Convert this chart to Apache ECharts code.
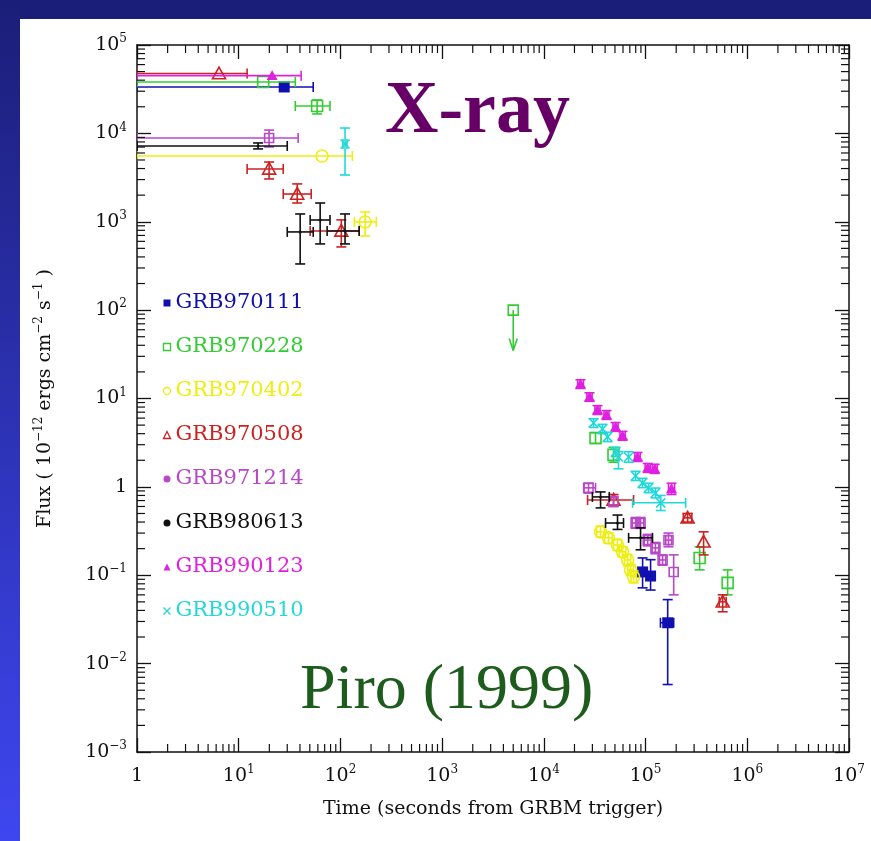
<!DOCTYPE html>
<html>
<head>
<meta charset="utf-8">
<title>X-ray afterglows (Piro 1999)</title>
<script src="https://cdn.jsdelivr.net/npm/echarts@6/dist/echarts.min.js"></script>
<style>
html, body { margin: 0; padding: 0; background: #fff; }
#chart { width: 871px; height: 841px; }
</style>
</head>
<body>
<div id="chart"></div>
<script>
// rows: [time, flux, timeLo, timeHi, fluxLo, fluxHi]   null = no bar
var grb970111 = [
  [28, 33500, 1, 54, null, null],
  [93500, 0.109, 86000, 102000, 0.072, 0.157],
  [112000, 0.098, 104000, 121000, 0.068, 0.15],
  [165000, 0.029, 140000, 189000, 0.0058, 0.053]
]
var grb970228 = [
  [17.4, 38100, 1, 36, null, null],
  [59, 20400, 36, 79, 16600, 23900],
  [32200, 3.58, null, null, 3.1, 4.1],
  [48400, 2.3, null, null, 1.9, 2.8],
  [340000, 0.157, null, null, 0.115, 0.21],
  [641000, 0.082, null, null, 0.06, 0.115]
]
// upper limit: [time, flux, arrow tip]
var grb970228Limit = [[5000, 100, 35]]
var grb970402 = [
  [66, 5550, 1, 131, null, null],
  [175, 995, 137, 225, 690, 1290],
  [36100, 0.31, 33000, 39500, 0.27, 0.36],
  [43200, 0.265, 39500, 47000, 0.23, 0.3],
  [53000, 0.22, 48500, 58000, 0.19, 0.255],
  [59400, 0.184, 55000, 64000, 0.16, 0.21],
  [66600, 0.149, 62000, 71500, 0.128, 0.172],
  [71200, 0.115, 67000, 76000, 0.1, 0.133],
  [76200, 0.096, 72000, 81000, 0.082, 0.112]
]
var grb970508 = [
  [6.4, 47500, 1, 12.1, null, null],
  [19.9, 3960, 12.1, 27.4, 3050, 4740],
  [37.6, 2060, 27.4, 51.6, 1630, 2680],
  [102, 787, 50.4, 153, 519, 1050],
  [48400, 0.71, 26900, 76200, 0.62, 0.82],
  [259000, 0.446, 235000, 285000, 0.4, 0.5],
  [372000, 0.239, null, null, 0.17, 0.31],
  [573000, 0.05, 530000, 620000, 0.0386, 0.06]
]
var grb971214 = [
  [19.9, 8870, 1, 38.4, 7020, 10900],
  [27500, 0.975, 24600, 32200, 0.85, 1.1],
  [48400, 0.676, null, null, 0.6, 0.78],
  [79800, 0.39, 74000, 86000, 0.34, 0.45],
  [89300, 0.39, 83000, 96000, 0.34, 0.45],
  [105000, 0.25, 97000, 114000, 0.215, 0.29],
  [125000, 0.204, 116000, 135000, 0.175, 0.235],
  [147000, 0.149, 137000, 158000, 0.13, 0.17],
  [168000, 0.25, 158000, 180000, 0.21, 0.3],
  [189000, 0.109, null, null, 0.06, 0.17]
]
var grb980613 = [
  [15.5, 7200, 1, 30, 6670, 7790],
  [40.2, 767, 30, 54, 333, 1225],
  [63.2, 1047, 50.4, 79, 561, 1630],
  [111, 787, 74, 153, 561, 1225],
  [36100, 0.77, 30000, 44000, 0.578, 0.877],
  [53000, 0.39, 40400, 60700, 0.33, 0.48],
  [89300, 0.265, 68100, 117000, 0.194, 0.344]
]
var grb990123 = [
  [21.3, 45000, 1, 41.1, null, null],
  [22900, 14.6, 21500, 24500, 13, 16.3],
  [28100, 10.4, 26500, 29800, 9.3, 11.6],
  [33700, 7.43, 31800, 35700, 6.6, 8.3],
  [41300, 6.52, 39000, 43700, 5.8, 7.3],
  [50700, 4.77, 47800, 53700, 4.25, 5.35],
  [59400, 3.78, 56000, 63000, 3.37, 4.24],
  [83400, 2.18, 78500, 88500, 1.94, 2.45],
  [105000, 1.64, 99000, 111000, 1.46, 1.84],
  [123000, 1.6, 116000, 130000, 1.42, 1.8],
  [180000, 0.95, 168000, 193000, 0.82, 1.1]
]
var grb990510 = [
  [111, 7590, 106, 116, 3380, 11500],
  [30800, 5.3, null, null, 4.7, 5.9],
  [37700, 4.53, null, null, 4.0, 5.1],
  [42300, 3.68, null, null, 3.25, 4.15],
  [50700, 2.49, null, null, 2.2, 2.8],
  [54200, 2.18, null, null, 1.6, 2.5],
  [68100, 2.18, null, null, 1.9, 2.5],
  [79800, 1.33, null, null, 1.18, 1.5],
  [93300, 1.11, null, null, 0.98, 1.25],
  [107000, 0.975, null, null, 0.86, 1.1],
  [125000, 0.855, null, null, 0.75, 0.97],
  [141000, 0.66, 74500, 248000, 0.54, 0.8]
]

var names = ['GRB970111', 'GRB970228', 'GRB970402', 'GRB970508', 'GRB971214', 'GRB980613', 'GRB990123', 'GRB990510']
var tables = [grb970111, grb970228, grb970402, grb970508, grb971214, grb980613, grb990123, grb990510]
var colors = ['#1010b0', '#33cc33', '#eeee11', '#cc2222', '#b848c8', '#111111', '#e020e0', '#22d8d8']
var symbols = ['rectFill', 'rect', 'circle', 'triangle', 'rect', 'dot', 'triangleFill', 'x']
var symbolSizes = [11, 11, 12, 13, 9, 3, 11, 9]
var legendIcons = ['rect', 'rect', 'circle', 'triangle', 'circle', 'circle', 'triangle', 'path://M0,0L10,10M10,0L0,10']
var legendFilled = [true, false, false, false, true, true, true, false]

var xMin = 1, xMax = 1e7, yMin = 1e-3, yMax = 1e5
var minorSteps = [2, 3, 4, 5, 6, 7, 8, 9]
var xDecades = [1, 10, 100, 1e3, 1e4, 1e5, 1e6]
var yDecades = [1e-3, 1e-2, 0.1, 1, 10, 100, 1e3, 1e4]

var font = 'DejaVu Serif'
var chart = echarts.init(document.getElementById('chart'))

function seg(x1, y1, x2, y2, style) {
  return { type: 'line', shape: { x1: x1, y1: y1, x2: x2, y2: y2 }, style: style }
}

function symbolParts(kind, p, s, color) {
  var h = s / 2
  var stroke = { fill: 'none', stroke: color, lineWidth: 1.6 }
  var solid = { fill: color }
  var tri = [[p[0], p[1] - h], [p[0] - h, p[1] + h * 0.8], [p[0] + h, p[1] + h * 0.8]]
  switch (kind) {
    case 'rectFill':
      return [{ type: 'rect', shape: { x: p[0] - h, y: p[1] - h, width: s, height: s }, style: solid }]
    case 'rect':
      return [{ type: 'rect', shape: { x: p[0] - h, y: p[1] - h, width: s, height: s }, style: stroke }]
    case 'circle':
      return [{ type: 'circle', shape: { cx: p[0], cy: p[1], r: h }, style: stroke }]
    case 'triangle':
      return [{ type: 'polygon', shape: { points: tri }, style: stroke }]
    case 'triangleFill':
      return [{ type: 'polygon', shape: { points: tri }, style: solid }]
    case 'x':
      return [
        seg(p[0] - h, p[1] - h, p[0] + h, p[1] + h, stroke),
        seg(p[0] + h, p[1] - h, p[0] - h, p[1] + h, stroke)
      ]
    default:
      return [{ type: 'circle', shape: { cx: p[0], cy: p[1], r: h }, style: solid }]
  }
}

function errorBars(color, kind, size) {
  return function(params, api) {
    var x = api.value(0)
    var y = api.value(1)
    var p = api.coord([x, y])
    var xlo = api.value(2), xhi = api.value(3), ylo = api.value(4), yhi = api.value(5)
    var ls = { stroke: color, lineWidth: 1.6 }
    var cap = 5
    var kids = []
    if (isFinite(xlo) && isFinite(xhi)) {
      var a = api.coord([xlo, y]), b = api.coord([xhi, y])
      kids.push(seg(a[0], p[1], b[0], p[1], ls))
      kids.push(seg(a[0], p[1] - cap, a[0], p[1] + cap, ls))
      kids.push(seg(b[0], p[1] - cap, b[0], p[1] + cap, ls))
    }
    if (isFinite(ylo) && isFinite(yhi)) {
      var c = api.coord([x, ylo]), d = api.coord([x, yhi])
      kids.push(seg(p[0], c[1], p[0], d[1], ls))
      kids.push(seg(p[0] - cap, c[1], p[0] + cap, c[1], ls))
      kids.push(seg(p[0] - cap, d[1], p[0] + cap, d[1], ls))
    }
    return { type: 'group', children: kids.concat(symbolParts(kind, p, size, color)) }
  }
}

function upperLimit(color) {
  return function(params, api) {
    var p = api.coord([api.value(0), api.value(1)])
    var tip = api.coord([api.value(0), api.value(2)])
    var ls = { stroke: color, lineWidth: 1.6 }
    return {
      type: 'group',
      children: [
        { type: 'rect', shape: { x: p[0] - 5, y: p[1] - 5, width: 10, height: 10 }, style: { fill: 'none', stroke: color, lineWidth: 1.6 } },
        seg(p[0], p[1], p[0], tip[1], ls),
        seg(p[0] - 4, tip[1] - 12, p[0], tip[1], ls),
        seg(p[0] + 4, tip[1] - 12, p[0], tip[1], ls)
      ]
    }
  }
}

// minor ticks at 2..9 of each decade, on all four sides
var tickData = []
xDecades.forEach(function(d) {
  minorSteps.forEach(function(m) { tickData.push([d * m, yMin, 0]) })
})
yDecades.forEach(function(d) {
  minorSteps.forEach(function(m) { tickData.push([xMin, d * m, 1]) })
})

function minorTicks(params, api) {
  var v = api.value(2) === 0 ? api.value(0) : api.value(1)
  var ls = { stroke: '#111', lineWidth: 1.2 }
  var len = 8
  if (api.value(2) === 0) {
    var a = api.coord([v, yMin]), b = api.coord([v, yMax])
    return { type: 'group', children: [seg(a[0], a[1], a[0], a[1] - len, ls), seg(b[0], b[1], b[0], b[1] + len, ls)] }
  }
  var c = api.coord([xMin, v]), d = api.coord([xMax, v])
  return { type: 'group', children: [seg(c[0], c[1], c[0] + len, c[1], ls), seg(d[0], d[1], d[0] - len, d[1], ls)] }
}

function powLabel(v) {
  var e = Math.round(Math.log10(v))
  if (e === 0) return '1'
  return '10{s|' + (e < 0 ? '\u2212' + (-e) : e) + '}'
}

var labelStyle = {
  formatter: powLabel,
  fontFamily: font,
  fontSize: 19,
  lineHeight: 24,
  color: '#111',
  rich: { s: { fontFamily: font, fontSize: 12, lineHeight: 12, verticalAlign: 'top', color: '#111' } }
}
var lineStyle = { color: '#111', width: 1.5 }

function logAxis(pos, min, max, extra) {
  return Object.assign({
    type: 'log',
    logBase: 10,
    position: pos,
    min: min,
    max: max,
    axisLine: { show: true, onZero: false, lineStyle: lineStyle },
    axisTick: { show: true, inside: true, length: 14, lineStyle: { color: '#111', width: 1.3 } },
    axisLabel: { show: false },
    splitLine: { show: false },
    minorTick: { show: false }
  }, extra)
}

var series = names.map(function(n, i) {
  return {
    name: n,
    type: 'custom',
    coordinateSystem: 'cartesian2d',
    clip: true,
    encode: { x: 0, y: 1 },
    itemStyle: { color: colors[i] },
    data: tables[i],
    renderItem: errorBars(colors[i], symbols[i], symbolSizes[i]),
    z: 3
  }
})
series.push({
  name: 'GRB970228',
  type: 'custom',
  coordinateSystem: 'cartesian2d',
  encode: { x: 0, y: 1 },
  itemStyle: { color: colors[1] },
  data: grb970228Limit,
  renderItem: upperLimit(colors[1]),
  z: 3
})
series.push({
  name: 'ticks',
  type: 'custom',
  coordinateSystem: 'cartesian2d',
  silent: true,
  data: tickData,
  encode: { x: 0, y: 1 },
  renderItem: minorTicks,
  z: 4
})

chart.setOption({
  animation: false,
  backgroundColor: '#fff',
  grid: { left: 137, right: 22, top: 45, bottom: 89 },
  xAxis: [
    logAxis('bottom', xMin, xMax, {
      axisLabel: Object.assign({ margin: 12 }, labelStyle),
      name: 'Time (seconds from GRBM trigger)',
      nameLocation: 'middle',
      nameGap: 48,
      nameTextStyle: { fontFamily: font, fontSize: 19, color: '#111' }
    }),
    logAxis('top', xMin, xMax, {})
  ],
  yAxis: [
    logAxis('left', yMin, yMax, {
      axisLabel: Object.assign({ margin: 10 }, labelStyle),
      name: 'Flux ( 10{s|\u221212} ergs cm{s|\u22122} s{s|\u22121} )',
      nameLocation: 'middle',
      nameRotate: 90,
      nameGap: 80,
      nameTextStyle: {
        fontFamily: font, fontSize: 19, lineHeight: 24, color: '#111',
        rich: { s: { fontFamily: font, fontSize: 12, lineHeight: 12, verticalAlign: 'top', color: '#111' } }
      }
    }),
    logAxis('right', yMin, yMax, {})
  ],
  legend: {
    orient: 'vertical',
    left: 156,
    top: 287,
    itemWidth: 7,
    itemHeight: 7,
    itemGap: 22,
    selectedMode: false,
    textStyle: { fontFamily: font, fontSize: 21, lineHeight: 22 },
    data: names.map(function(n, i) {
      return {
        name: n,
        icon: legendIcons[i],
        itemStyle: legendFilled[i]
          ? { color: colors[i], borderWidth: 0 }
          : { color: i === 7 ? 'none' : '#fff', borderColor: colors[i], borderWidth: 1.3 },
        textStyle: { color: colors[i] }
      }
    })
  },
  graphic: [
    { type: 'rect', left: 0, top: 0, silent: true, z: -10, shape: { width: 871, height: 19 }, style: { fill: '#1b1e78' } },
    {
      type: 'rect', left: 0, top: 0, silent: true, z: -10, shape: { width: 20, height: 841 },
      style: { fill: new echarts.graphic.LinearGradient(0, 0, 0, 1, [{ offset: 0, color: '#1b1e78' }, { offset: 1, color: '#3e46f0' }]) }
    },
    { type: 'text', left: 385, top: 76, style: { text: 'X-ray', fill: '#660066', font: 'bold 74px "Liberation Serif"' } },
    { type: 'text', left: 300, top: 659, style: { text: 'Piro (1999)', fill: '#1d5c1d', font: '64px "Liberation Serif"' } }
  ],
  series: series
})
</script>
</body>
</html>
